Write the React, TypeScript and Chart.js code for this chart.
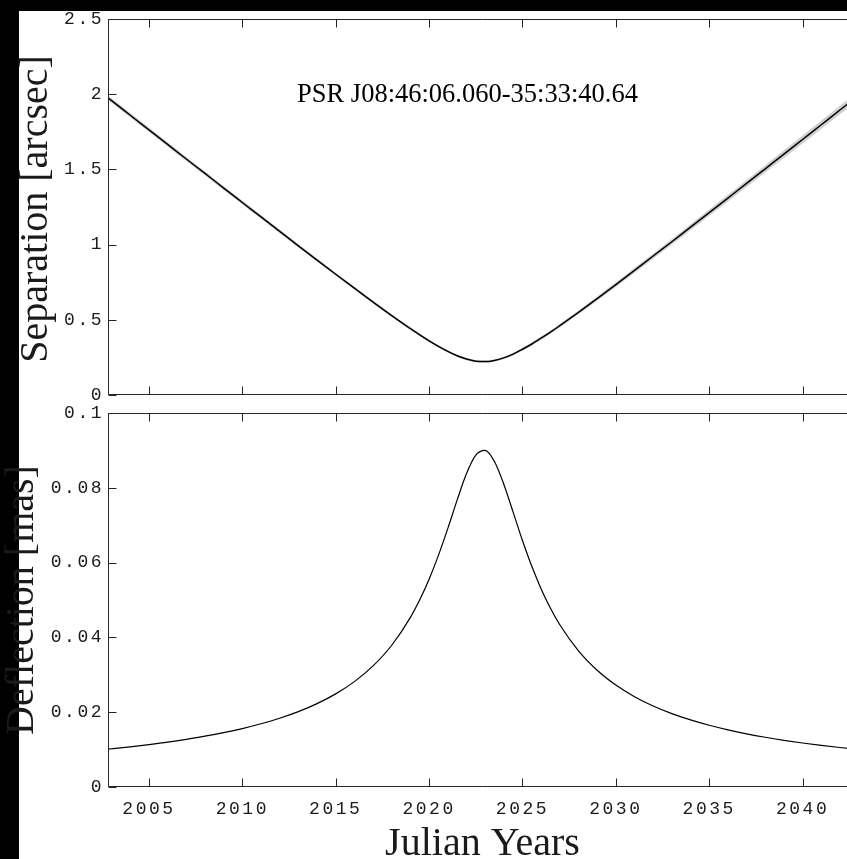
import React, { useEffect, useRef } from 'react';
import { Chart, registerables } from 'chart.js';

Chart.register(...registerables);

// ---------------- data ----------------
const YEARS = [
  2002.5, 2003, 2004, 2005, 2006, 2007, 2008, 2009, 2010, 2011, 2012, 2013, 2014, 2015, 2016, 2017, 2018, 2019,
  2019.5, 2020, 2020.5, 2021, 2021.5, 2022, 2022.5, 2023, 2023.5, 2024, 2024.5, 2025, 2025.5, 2026, 2026.5,
  2027, 2028, 2029, 2030, 2031, 2032, 2033, 2034, 2035, 2036, 2037, 2038, 2039, 2040, 2041, 2042, 2043,
];

// Separation [arcsec]
const SEPARATION = [
  2.005, 1.957, 1.86, 1.763, 1.666, 1.569, 1.473, 1.376, 1.28, 1.184, 1.088, 0.992, 0.897, 0.803, 0.71, 0.618, 0.528, 0.441,
  0.4, 0.36, 0.323, 0.29, 0.261, 0.239, 0.225, 0.222, 0.23, 0.247, 0.272, 0.304, 0.339, 0.378, 0.418,
  0.461, 0.549, 0.641, 0.734, 0.828, 0.924, 1.019, 1.116, 1.212, 1.309, 1.407, 1.504, 1.601, 1.699, 1.797, 1.895, 1.992,
];

// half-width of the grey uncertainty band [arcsec]
const SEPARATION_ERR = [
  0.0162, 0.016, 0.0155, 0.0151, 0.0146, 0.0142, 0.0137, 0.0133, 0.0128, 0.0124, 0.0119, 0.0115, 0.011, 0.0106, 0.0101, 0.0097, 0.0092, 0.0088,
  0.0085, 0.0083, 0.0081, 0.0079, 0.0076, 0.0074, 0.0072, 0.0071, 0.0077, 0.0083, 0.0088, 0.0094, 0.01, 0.0106, 0.0111,
  0.0117, 0.0129, 0.014, 0.0152, 0.0163, 0.0175, 0.0186, 0.0198, 0.0209, 0.0221, 0.0232, 0.0244, 0.0255, 0.0267, 0.0278, 0.029, 0.0301,
];

// Deflection [mas]
const DEFLECTION = [
  0.00997, 0.01022, 0.01075, 0.01135, 0.012, 0.01275, 0.01358, 0.01453, 0.01563, 0.0169, 0.01839, 0.02015, 0.02229, 0.0249, 0.02818, 0.03238, 0.0379, 0.04535,
  0.05005, 0.05556, 0.06194, 0.06908, 0.07669, 0.08375, 0.08873, 0.09001, 0.08703, 0.08097, 0.07348, 0.0659, 0.059, 0.05297, 0.0478,
  0.04339, 0.03641, 0.03122, 0.02726, 0.02415, 0.02166, 0.01962, 0.01793, 0.0165, 0.01528, 0.01422, 0.0133, 0.01249, 0.01177, 0.01113, 0.01056, 0.01004,
];

const X_TICKS = [2005, 2010, 2015, 2020, 2025, 2030, 2035, 2040];
const SEP_TICKS = [0, 0.5, 1, 1.5, 2, 2.5];
const DEF_TICKS = [0, 0.02, 0.04, 0.06, 0.08, 0.1];
const X_MIN = 2002.86;
const X_MAX = 2042.86;

const ANNOTATION = 'PSR J08:46:06.060-35:33:40.64';
const ANNOTATION_AT = { x: 2012.93, y: 1.948 };
const SEP_LABEL = 'Separation [arcsec]';
const DEF_LABEL = 'Deflection [mas]';
const X_LABEL = 'Julian Years';

// ---------------- layout / style ----------------
const CW = 856;
const CH = 870;
const AXIS = '#262626';
const TICK_COLOR = '#1c1c1c';
const TICK_FONT = 'Liberation Mono';
const SERIF = '"Liberation Serif", serif';

type Panel = {
  top: number;
  bottom: number;
  yMin: number;
  yMax: number;
  yTicks: number[];
  showX: boolean;
};

function framePlugin(p: Panel, yLabel: string, yLabelX: number, yLabelY: number, extra: (chart: any) => void) {
  return {
    id: 'frame',
    beforeDraw(chart: any) {
      chart.ctx.letterSpacing = '2.5px';
    },
    afterDraw(chart: any) {
      const { ctx, chartArea: a, scales } = chart;
      ctx.save();
      ctx.letterSpacing = '0px';
      ctx.strokeStyle = AXIS;
      ctx.lineWidth = 1;
      const L = Math.round(a.left) - 0.5;
      const T = Math.round(a.top) + 0.5;
      const B = Math.round(a.bottom) - 0.5;
      const R = a.right + 2;
      ctx.beginPath();
      ctx.moveTo(L, T);
      ctx.lineTo(R, T);
      ctx.moveTo(L, T);
      ctx.lineTo(L, B);
      ctx.lineTo(R, B);
      for (const v of X_TICKS) {
        const px = Math.round(scales.x.getPixelForValue(v)) + 0.5;
        ctx.moveTo(px, T);
        ctx.lineTo(px, T + 8);
        ctx.moveTo(px, B);
        ctx.lineTo(px, B - 8);
      }
      for (const v of p.yTicks) {
        const py = Math.round(scales.y.getPixelForValue(v)) + 0.5;
        ctx.moveTo(L, py);
        ctx.lineTo(L + 8, py);
      }
      ctx.stroke();

      // y label
      ctx.fillStyle = '#1a1a1a';
      ctx.font = `40px ${SERIF}`;
      ctx.textAlign = 'center';
      ctx.textBaseline = 'alphabetic';
      ctx.save();
      ctx.translate(yLabelX, yLabelY);
      ctx.rotate(-Math.PI / 2);
      ctx.fillText(yLabel, 0, 0);
      ctx.restore();
      extra(chart);
      ctx.restore();
    },
  };
}

function makeConfig(p: Panel, datasets: any[], plugin: any) {
  return {
    type: 'line',
    data: { datasets },
    options: {
      responsive: false,
      maintainAspectRatio: false,
      animation: false,
      events: [],
      layout: { padding: { top: p.top, bottom: p.showX ? 0 : CH - p.bottom, left: 0, right: 0 } },
      plugins: { legend: { display: false }, tooltip: { enabled: false }, title: { display: false } },
      elements: { point: { radius: 0 } },
      scales: {
        x: {
          type: 'linear',
          bounds: 'data',
          min: X_MIN,
          max: X_MAX,
          grid: { display: false, drawTicks: false },
          border: { display: false },
          ticks: {
            display: p.showX,
            autoSkip: false,
            maxRotation: 0,
            padding: 11,
            color: TICK_COLOR,
            font: { family: TICK_FONT, size: 18 },
            callback: (v: any) => String(v),
          },
          afterBuildTicks: (s: any) => {
            s.ticks = X_TICKS.map((value) => ({ value }));
          },
          afterFit: (s: any) => {
            s.height = p.showX ? CH - p.bottom : 0;
          },
        },
        y: {
          type: 'linear',
          bounds: 'data',
          min: p.yMin,
          max: p.yMax,
          grid: { display: false, drawTicks: false },
          border: { display: false },
          ticks: {
            padding: 5,
            color: TICK_COLOR,
            font: { family: TICK_FONT, size: 18 },
            callback: (v: any) => String(v),
          },
          afterBuildTicks: (s: any) => {
            s.ticks = p.yTicks.map((value) => ({ value }));
          },
          afterFit: (s: any) => {
            s.width = 109;
          },
        },
      },
    },
    plugins: [plugin],
  } as any;
}

export default function App() {
  const topRef = useRef<HTMLCanvasElement>(null);
  const botRef = useRef<HTMLCanvasElement>(null);

  useEffect(() => {
    const topPanel: Panel = { top: 19, bottom: 395, yMin: 0, yMax: 2.5, yTicks: SEP_TICKS, showX: false };
    const botPanel: Panel = { top: 413, bottom: 787, yMin: 0, yMax: 0.1, yTicks: DEF_TICKS, showX: true };

    const upper = YEARS.map((x, i) => ({ x, y: SEPARATION[i] + SEPARATION_ERR[i] }));
    const lower = YEARS.map((x, i) => ({ x, y: SEPARATION[i] - SEPARATION_ERR[i] }));
    const sep = YEARS.map((x, i) => ({ x, y: SEPARATION[i] }));
    const def = YEARS.map((x, i) => ({ x, y: DEFLECTION[i] }));

    const topDatasets = [
      { data: upper, order: 2, borderWidth: 0, borderColor: 'rgba(0,0,0,0)', fill: false, cubicInterpolationMode: 'monotone' },
      { data: lower, order: 1, borderWidth: 0, borderColor: 'rgba(0,0,0,0)', fill: '-1', backgroundColor: '#d0d0d0', cubicInterpolationMode: 'monotone' },
      { data: sep, order: -1, borderWidth: 1.5, borderColor: '#000', fill: false, cubicInterpolationMode: 'monotone' },
    ];
    const botDatasets = [
      { data: def, borderWidth: 1.2, borderColor: '#000', fill: false, cubicInterpolationMode: 'monotone' },
    ];

    const topPlugin = framePlugin(topPanel, SEP_LABEL, 47, 209, (chart: any) => {
      const { ctx, scales } = chart;
      ctx.fillStyle = '#000';
      ctx.font = `26.5px ${SERIF}`;
      ctx.textAlign = 'left';
      ctx.textBaseline = 'alphabetic';
      ctx.fillText(ANNOTATION, scales.x.getPixelForValue(ANNOTATION_AT.x), scales.y.getPixelForValue(ANNOTATION_AT.y));
    });
    const botPlugin = framePlugin(botPanel, DEF_LABEL, 33, 600, (chart: any) => {
      const { ctx, chartArea } = chart;
      ctx.fillStyle = '#1a1a1a';
      ctx.font = `40px ${SERIF}`;
      ctx.textAlign = 'center';
      ctx.textBaseline = 'alphabetic';
      ctx.fillText(X_LABEL, (chartArea.left + chartArea.right) / 2, 855);
    });

    const c1 = new Chart(topRef.current as HTMLCanvasElement, makeConfig(topPanel, topDatasets, topPlugin));
    const c2 = new Chart(botRef.current as HTMLCanvasElement, makeConfig(botPanel, botDatasets, botPlugin));
    return () => {
      c1.destroy();
      c2.destroy();
    };
  }, []);

  const canvasStyle: React.CSSProperties = { position: 'absolute', left: 0, top: 0, width: CW, height: CH };
  return (
    <div style={{ position: 'fixed', left: 0, top: 0, width: 847, height: 859, overflow: 'hidden', background: '#000' }}>
      <div style={{ position: 'absolute', left: 19, top: 11, width: 900, height: 900, background: '#fff' }} />
      <canvas ref={topRef} width={CW} height={CH} style={canvasStyle} />
      <canvas ref={botRef} width={CW} height={CH} style={canvasStyle} />
    </div>
  );
}
